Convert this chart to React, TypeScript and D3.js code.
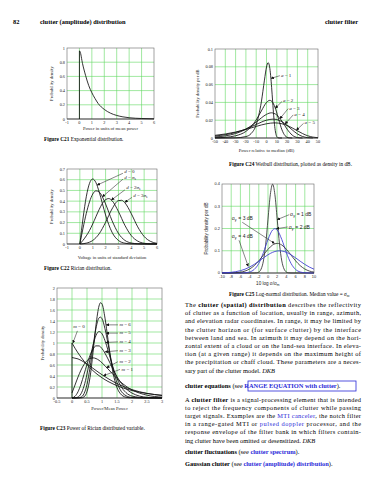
import React from 'react';
import * as d3 from 'd3';

type Pt = [number, number];
type Seg = [string, string?];

const SERIF = '"Liberation Serif", "Times New Roman", serif';
const SANS = '"Liberation Sans", Arial, sans-serif';
const GRID = '#62d862';
const BLUE = '#3a3ad0';
const LINK = '#2a2ad8';
const INK = '#222';

// Figure C21 - exponential
const c21XTicks = [-1, 0, 1, 2, 3, 4, 5, 6];
const c21YTicks = [0, 0.2, 0.4, 0.6, 0.8, 1];
const c21Exp: Pt[] = [[0, 0.96], [0.05, 0.95], [0.25, 0.78], [0.5, 0.61], [0.75, 0.47], [1, 0.37], [1.25, 0.29], [1.5, 0.22], [2, 0.135], [2.5, 0.082], [3, 0.05], [3.5, 0.03], [4, 0.018], [4.5, 0.011], [5, 0.007], [6, 0.0025]];

// Figure C24 - Weibull in dB
const c24XTicks = [-50, -40, -30, -20, -10, 0, 10, 20, 30, 40, 50];
const c24YTicks = [0, 0.02, 0.04, 0.06, 0.08, 0.1];
const c24Names = ['1', '2', '3', '4', '5'];
const c24A1: Pt[] = [[-50, 0], [-40, 0.00002], [-30, 0.0002], [-20, 0.0016], [-15, 0.0049], [-10, 0.0149], [-5, 0.0405], [-2, 0.065], [0, 0.0798], [1.6, 0.0847], [3, 0.08], [4, 0.0704], [5, 0.0565], [6, 0.0404], [7, 0.0249], [8, 0.0128], [9, 0.0052], [10, 0.0016], [12, 0.00004], [15, 0]];
const c24A2: Pt[] = [[-50, 0.00025], [-40, 0.0008], [-30, 0.0025], [-20, 0.0074], [-15, 0.0126], [-10, 0.0203], [-5, 0.0304], [0, 0.0399], [3.2, 0.0423], [6, 0.04], [9, 0.032], [12, 0.0202], [15, 0.0092], [18, 0.0026], [20, 0.0008], [22, 0.0002], [25, 0]];
const c24A3: Pt[] = [[-50, 0.0011], [-40, 0.0024], [-30, 0.005], [-20, 0.0099], [-10, 0.0179], [-5, 0.0226], [0, 0.0266], [4.8, 0.0283], [10, 0.0258], [15, 0.0188], [20, 0.0099], [25, 0.0032], [30, 0.0005], [35, 0]];
const c24A4: Pt[] = [[-50, 0.0022], [-40, 0.0037], [-30, 0.0062], [-20, 0.0101], [-10, 0.0152], [0, 0.02], [6.4, 0.0212], [10, 0.0207], [15, 0.0183], [20, 0.0141], [25, 0.0091], [30, 0.0046], [35, 0.0017], [40, 0.0004], [45, 0.0001]];
const c24A5: Pt[] = [[-50, 0.003], [-40, 0.0045], [-30, 0.0067], [-20, 0.0096], [-10, 0.013], [0, 0.016], [8, 0.017], [15, 0.016], [20, 0.0141], [25, 0.0113], [30, 0.0081], [35, 0.005], [40, 0.0025], [45, 0.001], [50, 0.0003]];

// Figure C22 - Rician
const c22XTicks = [-1, 0, 1, 2, 3, 4, 5, 6];
const c22YTicks = [0, 0.1, 0.2, 0.3, 0.4, 0.5, 0.6, 0.7];
const c22D0: Pt[] = [[0, 0], [0.25, 0.242], [0.5, 0.441], [0.75, 0.566], [1, 0.607], [1.25, 0.573], [1.5, 0.487], [1.75, 0.379], [2, 0.271], [2.5, 0.11], [3, 0.0333], [3.5, 0.0076], [4, 0.0013], [5, 0], [6, 0]];
const c22D1: Pt[] = [[0, 0], [0.25, 0.149], [0.5, 0.285], [0.75, 0.393], [1, 0.466], [1.25, 0.496], [1.5, 0.486], [1.75, 0.441], [2, 0.374], [2.5, 0.219], [3, 0.099], [3.5, 0.034], [4, 0.0092], [4.5, 0.0019], [5, 0.0003], [6, 0]];
const c22D2: Pt[] = [[0, 0], [0.25, 0.035], [0.5, 0.076], [0.75, 0.126], [1, 0.187], [1.25, 0.255], [1.5, 0.322], [1.75, 0.378], [2, 0.414], [2.25, 0.424], [2.5, 0.405], [3, 0.303], [3.5, 0.175], [4, 0.078], [4.5, 0.027], [5, 0.007], [5.5, 0.0015], [6, 0.0002]];
const c22D3: Pt[] = [[0, 0], [0.5, 0.008], [1, 0.033], [1.5, 0.095], [2, 0.202], [2.5, 0.327], [3, 0.405], [3.25, 0.408], [3.5, 0.385], [4, 0.283], [4.5, 0.16], [5, 0.07], [5.5, 0.024], [6, 0.006]];

// Figure C25 - log-normal
const c25XTicks = [-10, -8, -6, -4, -2, 0, 2, 4, 6, 8, 10];
const c25YTicks = [0, 0.1, 0.2, 0.3, 0.4];
const c25Names = ['1', '2', '3', '4'];
const c25S1: Pt[] = [[-10, 0], [-3, 0.0001], [-2.5, 0.0009], [-2, 0.0044], [-1.5, 0.0175], [-1, 0.054], [-0.5, 0.1295], [0, 0.242], [0.5, 0.352], [1, 0.399], [1.5, 0.352], [2, 0.242], [2.5, 0.1295], [3, 0.054], [3.5, 0.0175], [4, 0.0044], [4.5, 0.0009], [5, 0.0001], [10, 0]];
const c25S2: Pt[] = [[-10, 0], [-8, 0], [-7, 0.00003], [-6, 0.0002], [-5, 0.001], [-4, 0.0046], [-3, 0.0159], [-2, 0.0432], [-1, 0.0913], [0, 0.1506], [1, 0.1933], [1.5, 0.1995], [2, 0.1933], [3, 0.1506], [4, 0.0913], [5, 0.0432], [6, 0.0159], [7, 0.0046], [8, 0.001], [9, 0.0002], [10, 0.00003]];
const c25S3: Pt[] = [[-10, 0.00004], [-9, 0.00016], [-8, 0.0005], [-7, 0.0015], [-6, 0.0038], [-5, 0.0087], [-4, 0.018], [-3, 0.0331], [-2, 0.0547], [-1, 0.0807], [0, 0.1065], [1, 0.1258], [2, 0.133], [3, 0.1258], [4, 0.1065], [5, 0.0807], [6, 0.0547], [7, 0.0331], [8, 0.018], [9, 0.0087], [10, 0.0038]];
const c25S4: Pt[] = [[-10, 0.00075], [-9, 0.0016], [-8, 0.0032], [-7, 0.006], [-6, 0.0104], [-5, 0.0172], [-4, 0.0266], [-3, 0.0388], [-2, 0.053], [-1, 0.068], [0, 0.082], [1, 0.0929], [2, 0.099], [2.5, 0.0997], [3, 0.099], [4, 0.0929], [5, 0.082], [6, 0.068], [7, 0.053], [8, 0.0388], [9, 0.0266], [10, 0.0172]];

// Figure C23 - power of Rician variable
const c23XTicks = [-0.5, 0, 0.5, 1, 1.5, 2, 2.5, 3];
const c23YTicks = [0, 0.2, 0.4, 0.6, 0.8, 1, 1.2, 1.4, 1.6, 1.8, 2];
const c23Names = ['0', '1', '2', '3', '4', '5', '6'];
const c23M0: Pt[] = [[0, 1], [0.1, 0.905], [0.2, 0.819], [0.3, 0.741], [0.4, 0.67], [0.5, 0.607], [0.6, 0.549], [0.7, 0.497], [0.8, 0.449], [0.9, 0.407], [1, 0.368], [1.2, 0.301], [1.4, 0.247], [1.6, 0.202], [1.8, 0.165], [2, 0.135], [2.5, 0.082], [3, 0.05]];
const c23M1: Pt[] = [[0, 0.736], [0.1, 0.724], [0.2, 0.711], [0.3, 0.685], [0.4, 0.653], [0.5, 0.617], [0.6, 0.579], [0.7, 0.54], [0.8, 0.5], [0.9, 0.461], [1, 0.423], [1.2, 0.353], [1.4, 0.29], [1.6, 0.236], [1.8, 0.191], [2, 0.152], [2.5, 0.084], [3, 0.045]];
const c23M2: Pt[] = [[0, 0.092], [0.1, 0.236], [0.2, 0.381], [0.3, 0.508], [0.4, 0.609], [0.5, 0.68], [0.6, 0.719], [0.7, 0.73], [0.8, 0.717], [0.9, 0.686], [1, 0.64], [1.2, 0.528], [1.4, 0.41], [1.6, 0.302], [1.8, 0.214], [2, 0.147], [2.5, 0.051], [3, 0.015]];
const c23M3: Pt[] = [[0, 0.001], [0.1, 0.031], [0.2, 0.113], [0.3, 0.251], [0.4, 0.429], [0.5, 0.613], [0.6, 0.775], [0.7, 0.891], [0.8, 0.948], [0.9, 0.947], [1, 0.898], [1.2, 0.71], [1.4, 0.488], [1.6, 0.301], [1.8, 0.17], [2, 0.089], [2.5, 0.013], [3, 0.0015]];
const c23M4: Pt[] = [[0, 0], [0.1, 0.0015], [0.2, 0.017], [0.3, 0.077], [0.4, 0.215], [0.5, 0.436], [0.6, 0.704], [0.7, 0.958], [0.8, 1.138], [0.9, 1.208], [1, 1.168], [1.1, 1.042], [1.2, 0.867], [1.4, 0.503], [1.6, 0.241], [1.8, 0.098], [2, 0.035], [2.5, 0.0016], [3, 0]];
const c23M5: Pt[] = [[0, 0], [0.2, 0.001], [0.3, 0.015], [0.4, 0.078], [0.5, 0.247], [0.6, 0.55], [0.7, 0.93], [0.8, 1.27], [0.9, 1.456], [0.95, 1.47], [1, 1.442], [1.1, 1.258], [1.2, 0.987], [1.3, 0.704], [1.4, 0.458], [1.6, 0.158], [1.8, 0.042], [2, 0.009], [2.5, 0], [3, 0]];
const c23M6: Pt[] = [[0, 0], [0.3, 0.002], [0.4, 0.021], [0.5, 0.115], [0.6, 0.373], [0.7, 0.824], [0.8, 1.327], [0.9, 1.673], [0.95, 1.733], [1, 1.711], [1.1, 1.452], [1.2, 1.063], [1.3, 0.671], [1.4, 0.376], [1.5, 0.189], [1.6, 0.087], [1.8, 0.014], [2, 0.002], [3, 0]];

// page text
const para1: Seg[][] = [
  [['The '], ['clutter (spatial) distribution', 'b'], [' describes the reflectivity']],
  [['of clutter as a function of location, usually in range, azimuth,']],
  [['and elevation radar coordinates. In range, it may be limited by']],
  [['the clutter horizon or (for surface clutter) by the interface']],
  [['between land and sea. In azimuth it may depend on the hori-']],
  [['zontal extent of a cloud or on the land-sea interface. In eleva-']],
  [['tion (at a given range) it depends on the maximum height of']],
  [['the precipitation or chaff cloud. These parameters are a neces-']],
  [['sary part of the clutter model. '], ['DKB', 'i']],
];
const equationsLine: Seg[] = [['clutter equations', 'b'], [' (see '], ['RANGE EQUATION with clutter', 'lb'], [').']];
const para2: Seg[][] = [
  [['A '], ['clutter filter', 'b'], [' is a signal-processing element that is intended']],
  [['to reject the frequency components of clutter while passing']],
  [['target signals. Examples are the '], ['MTI canceler', 'l'], [', the notch filter']],
  [['in a range-gated MTI or '], ['pulsed doppler', 'l'], [' processor, and the']],
  [['response envelope of the filter bank in which filters contain-']],
  [['ing clutter have been omitted or desensitized. '], ['DKB', 'i']],
];
const seeAlso: Seg[][] = [
  [['clutter fluctuations', 'b'], [' (see '], ['clutter spectrum', 'lb'], [').']],
  [['Gaussian clutter', 'b'], [' (see '], ['clutter (amplitude) distribution', 'lb'], [').']],
];

type Curve = { pts: Pt[]; color: string; stem?: boolean };
type Note = { label: React.ReactNode; at: Pt; from: Pt; to: Pt };

function Plot(props: {
  box: [number, number, number, number];
  xDom: [number, number];
  yDom: [number, number];
  xTicks: number[];
  yTicks: number[];
  curves: Curve[];
  notes?: Note[];
  font: string;
  fs: number;
  tfs: number;
  yTitle: React.ReactNode;
  xTitle: React.ReactNode;
  yTitleX: number;
  xTitleY: number;
}) {
  const [L, T, W, H] = props.box;
  const fs = props.fs;
  const x = d3.scaleLinear().domain(props.xDom).range([L, L + W]);
  const y = d3.scaleLinear().domain(props.yDom).range([T + H, T]);
  const line = d3
    .line<Pt>()
    .x((d) => x(d[0]))
    .y((d) => y(d[1]))
    .curve(d3.curveMonotoneX);
  return (
    <g fontFamily={props.font} fill={INK}>
      {props.xTicks.slice(1, -1).map((t) => (
        <line key={'gx' + t} x1={x(t)} x2={x(t)} y1={T} y2={T + H} stroke={GRID} strokeWidth={0.6} />
      ))}
      {props.yTicks.slice(1, -1).map((t) => (
        <line key={'gy' + t} x1={L} x2={L + W} y1={y(t)} y2={y(t)} stroke={GRID} strokeWidth={0.6} />
      ))}
      <rect x={L} y={T} width={W} height={H} fill="none" stroke="#666" strokeWidth={0.6} />
      <line x1={L} x2={L + W} y1={T + H} y2={T + H} stroke="#222" strokeWidth={0.7} />
      {props.curves.map((c, i) => (
        <g key={'c' + i}>
          {c.stem && (
            <line x1={x(c.pts[0][0])} x2={x(c.pts[0][0])} y1={y(0)} y2={y(c.pts[0][1])} stroke={c.color} strokeWidth={0.85} />
          )}
          <path d={line(c.pts) || ''} fill="none" stroke={c.color} strokeWidth={0.85} />
        </g>
      ))}
      {props.xTicks.map((t) => (
        <text key={'tx' + t} x={x(t)} y={T + H + fs + 1} textAnchor="middle" fontSize={fs}>
          {t}
        </text>
      ))}
      {props.yTicks.map((t) => (
        <text key={'ty' + t} x={L - 2} y={y(t) + fs * 0.35} textAnchor="end" fontSize={fs}>
          {t}
        </text>
      ))}
      <text transform={`translate(${props.yTitleX},${T + H / 2}) rotate(-90)`} textAnchor="middle" fontSize={props.tfs}>
        {props.yTitle}
      </text>
      <text x={L + W / 2} y={props.xTitleY} textAnchor="middle" fontSize={props.tfs}>
        {props.xTitle}
      </text>
      {(props.notes || []).map((n, i) => (
        <g key={'n' + i}>
          <line x1={x(n.from[0])} y1={y(n.from[1])} x2={x(n.to[0])} y2={y(n.to[1])} stroke="#111" strokeWidth={0.5} markerEnd="url(#arr)" />
          <text x={x(n.at[0])} y={y(n.at[1])} fontSize={props.tfs + 0.4}>
            {n.label}
          </text>
        </g>
      ))}
    </g>
  );
}

function Line({ segs, x, y, width, fs }: { segs: Seg[]; x: number; y: number; width?: number; fs: number }) {
  return (
    <text x={x} y={y} fontSize={fs} textLength={width} lengthAdjust={width ? 'spacing' : undefined}>
      {segs.map(([t, s], j) => (
        <tspan
          key={j}
          fontWeight={s && s.includes('b') ? 'bold' : undefined}
          fontStyle={s === 'i' ? 'italic' : undefined}
          fill={s === 'l' || s === 'lb' ? LINK : undefined}
        >
          {t}
        </tspan>
      ))}
    </text>
  );
}

const sub = (s: string) => (
  <>
    <tspan dy={1} fontSize="70%">{s}</tspan>
    <tspan dy={-1}>{'\u200a'}</tspan>
  </>
);

export default function App() {
  const bodyX = 185;
  const bodyW = 176;
  const bfs = 6.4;

  const c24Curves = [c24A1, c24A2, c24A3, c24A4, c24A5].map((pts) => ({ pts, color: '#111' }));
  const c24Notes: Note[] = [
    { at: [14, 0.068], from: [13, 0.07], to: [4.4, 0.067] },
    { at: [16, 0.04], from: [15, 0.041], to: [8.5, 0.0335] },
    { at: [22, 0.032], from: [21, 0.033], to: [13, 0.0216] },
    { at: [27, 0.025], from: [26, 0.026], to: [18, 0.0158] },
    { at: [37, 0.0155], from: [36, 0.0165], to: [29, 0.0087] },
  ].map((n, i) => ({
    at: n.at as Pt,
    from: n.from as Pt,
    to: n.to as Pt,
    label: (
      <>
        <tspan fontStyle="italic">a</tspan> = {c24Names[i]}
      </>
    ),
  }));

  const c22Curves = [c22D0, c22D1, c22D2, c22D3].map((pts) => ({ pts, color: '#111' }));
  const c22Labels = [
    <><tspan fontStyle="italic">d</tspan> = 0</>,
    <><tspan fontStyle="italic">d</tspan> = <tspan fontStyle="italic">σ</tspan>{sub('s')}</>,
    <><tspan fontStyle="italic">d</tspan> = 2<tspan fontStyle="italic">σ</tspan>{sub('s')}</>,
    <><tspan fontStyle="italic">d</tspan> = 3<tspan fontStyle="italic">σ</tspan>{sub('s')}</>,
  ];
  const c22Notes: Note[] = [
    { at: [3.45, 0.665], from: [3.35, 0.66], to: [1.35, 0.55] },
    { at: [3.45, 0.61], from: [3.35, 0.605], to: [1.75, 0.44] },
    { at: [3.6, 0.51], from: [3.5, 0.505], to: [2.45, 0.41] },
    { at: [4.15, 0.44], from: [4.05, 0.435], to: [3.5, 0.39] },
  ].map((n, i) => ({ at: n.at as Pt, from: n.from as Pt, to: n.to as Pt, label: c22Labels[i] }));

  const c25Curves = [
    { pts: c25S1, color: '#333' },
    { pts: c25S2, color: BLUE },
    { pts: c25S3, color: '#333' },
    { pts: c25S4, color: BLUE },
  ];
  const c25Notes: Note[] = [
    { at: [4.8, 0.255], from: [4.6, 0.262], to: [2.0, 0.24] },
    { at: [4.5, 0.2], from: [4.3, 0.207], to: [1.8, 0.199] },
    { at: [-7.9, 0.24], from: [-5.6, 0.228], to: [1.4, 0.133] },
    { at: [-7.9, 0.158], from: [-6.3, 0.147], to: [-4.3, 0.03] },
  ].map((n, i) => ({
    at: n.at as Pt,
    from: n.from as Pt,
    to: n.to as Pt,
    label: (
      <>
        σ{sub('y')} = {c25Names[i]} dB
      </>
    ),
  }));

  const c23Curves = [c23M0, c23M1, c23M2, c23M3, c23M4, c23M5, c23M6].map((pts, i) => ({ pts, color: '#111', stem: i === 0 }));
  const c23Notes: Note[] = [
    { at: [0.04, 1.27], from: [0.18, 1.22], to: [0.03, 1.0] },
    { at: [1.65, 0.5], from: [1.6, 0.52], to: [1.05, 0.405] },
    { at: [1.58, 0.64], from: [1.53, 0.66], to: [1.15, 0.55] },
    { at: [1.58, 0.84], from: [1.53, 0.86], to: [1.1, 0.84] },
    { at: [1.58, 1.0], from: [1.53, 1.02], to: [1.13, 1.01] },
    { at: [1.58, 1.16], from: [1.53, 1.18], to: [1.14, 1.18] },
    { at: [1.58, 1.31], from: [1.53, 1.33], to: [1.14, 1.33] },
  ].map((n, i) => ({
    at: n.at as Pt,
    from: n.from as Pt,
    to: n.to as Pt,
    label: (
      <>
        <tspan fontStyle="italic">m</tspan> = {c23Names[i]}
      </>
    ),
  }));

  return (
    <svg width={370} height={480} style={{ position: 'absolute', left: 0, top: 0, background: '#fff' }} fontFamily={SERIF}>
      <defs>
        <marker id="arr" viewBox="0 0 10 10" refX="9" refY="5" markerWidth="3.2" markerHeight="3.2" markerUnits="userSpaceOnUse" orient="auto">
          <path d="M0,0 L10,5 L0,10 z" fill="#111" />
        </marker>
      </defs>
      <rect width={370} height={480} fill="#fff" />

      {/* running head */}
      <text x={13} y={24} fontSize={6.4} fontWeight="bold">82</text>
      <text x={40} y={24} fontSize={6.4} fontWeight="bold">clutter (amplitude) distribution</text>
      <text x={358} y={24} fontSize={6.4} fontWeight="bold" textAnchor="end">clutter filter</text>

      <Plot
        box={[67, 48, 87, 71]}
        xDom={[-1, 6]}
        yDom={[0, 1]}
        xTicks={c21XTicks}
        yTicks={c21YTicks}
        curves={[{ pts: c21Exp, color: '#111', stem: true }]}
        font={SERIF}
        fs={4.3}
        tfs={4.6}
        yTitle="Probability density"
        xTitle="Power in units of mean power"
        yTitleX={53}
        xTitleY={130}
      />
      <text x={44} y={141} fontSize={5.3}>
        <tspan fontWeight="bold">Figure C21</tspan> Exponential distribution.
      </text>

      <Plot
        box={[215, 49, 103, 89]}
        xDom={[-50, 50]}
        yDom={[0, 0.1]}
        xTicks={c24XTicks}
        yTicks={c24YTicks}
        curves={c24Curves}
        notes={c24Notes}
        font={SERIF}
        fs={4.3}
        tfs={4.6}
        yTitle="Probability density per dB"
        xTitle="Power relative to median (dB)"
        yTitleX={199}
        xTitleY={152}
      />
      <text x={229} y={166} fontSize={5.3}>
        <tspan fontWeight="bold">Figure C24</tspan> Weibull distribution, plotted as density in dB.
      </text>

      <Plot
        box={[67, 169, 90, 75]}
        xDom={[-1, 6]}
        yDom={[0, 0.7]}
        xTicks={c22XTicks}
        yTicks={c22YTicks}
        curves={c22Curves}
        notes={c22Notes}
        font={SERIF}
        fs={4.3}
        tfs={4.6}
        yTitle="Probability density"
        xTitle="Voltage in units of standard deviation"
        yTitleX={53}
        xTitleY={259}
      />
      <text x={44} y={270} fontSize={5.3}>
        <tspan fontWeight="bold">Figure C22</tspan> Rician distribution.
      </text>

      <Plot
        box={[222, 184, 92, 89]}
        xDom={[-10, 10]}
        yDom={[0, 0.4]}
        xTicks={c25XTicks}
        yTicks={c25YTicks}
        curves={c25Curves}
        notes={c25Notes}
        font={SANS}
        fs={3.9}
        tfs={4.6}
        yTitle="Probability density per dB"
        xTitle={<>10 log σ/σ{sub('m')}</>}
        yTitleX={208}
        xTitleY={285}
      />
      <text x={229} y={296} fontSize={5.3}>
        <tspan fontWeight="bold">Figure C25</tspan> Log-normal distribution. Median value = <tspan fontStyle="italic">σ</tspan>
        <tspan dy={1} fontSize="70%" fontStyle="italic">m</tspan>
      </text>

      <Plot
        box={[57, 288, 105, 110]}
        xDom={[-0.5, 3]}
        yDom={[0, 2]}
        xTicks={c23XTicks}
        yTicks={c23YTicks}
        curves={c23Curves}
        notes={c23Notes}
        font={SERIF}
        fs={4.3}
        tfs={4.6}
        yTitle="Probability density"
        xTitle="Power/Mean Power"
        yTitleX={44}
        xTitleY={410}
      />
      <text x={40} y={430} fontSize={5.3}>
        <tspan fontWeight="bold">Figure C23</tspan> Power of Rician distributed variable.
      </text>

      {/* body text */}
      {para1.map((segs, i) => (
        <Line key={'p1' + i} segs={segs} x={bodyX} y={307 + i * 8.2} width={i < para1.length - 1 ? bodyW : undefined} fs={bfs} />
      ))}
      <Line segs={equationsLine} x={bodyX} y={388} fs={bfs} />
      <rect x={248} y={381} width={108} height={10} fill="none" stroke={LINK} strokeWidth={0.8} />
      {para2.map((segs, i) => (
        <Line key={'p2' + i} segs={segs} x={bodyX} y={402 + i * 8.1} width={i < para2.length - 1 ? bodyW : undefined} fs={bfs} />
      ))}
      {seeAlso.map((segs, i) => (
        <Line key={'sa' + i} segs={segs} x={bodyX} y={453.5 + i * 12.5} fs={bfs} />
      ))}
    </svg>
  );
}
